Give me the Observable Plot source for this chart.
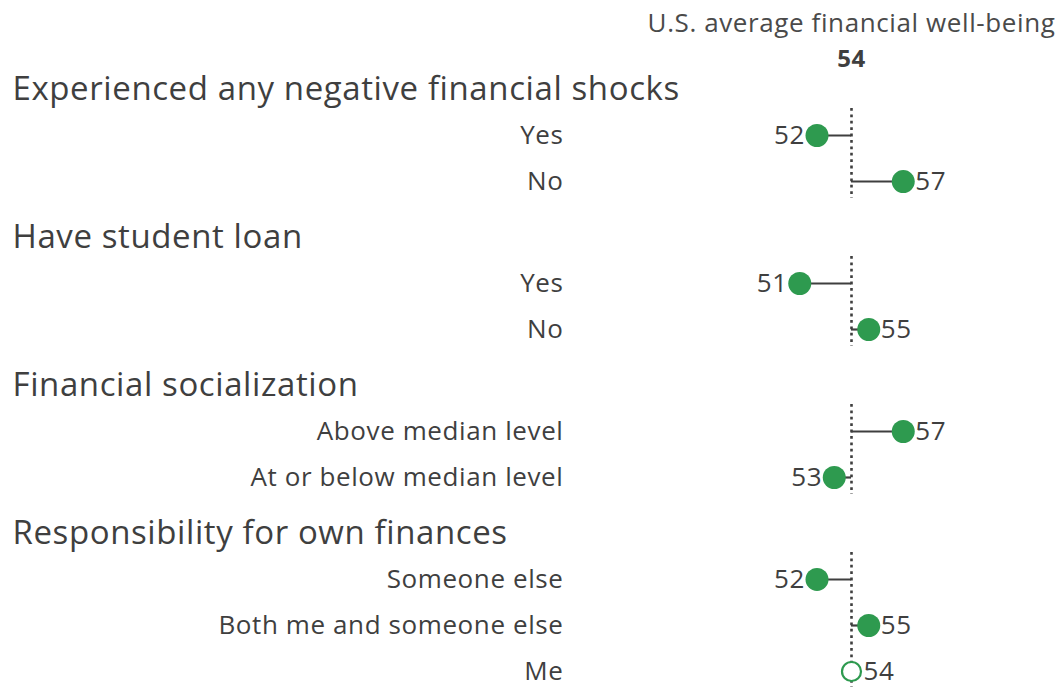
<!DOCTYPE html>
<html>
<head>
<meta charset="utf-8">
<script src="https://cdn.jsdelivr.net/npm/d3@7"></script>
<script src="https://cdn.jsdelivr.net/npm/@observablehq/plot@0.6"></script>
<style>
  html, body { margin: 0; padding: 0; background: #fff; }
  #chart svg { display: block; }
  #chart svg text { letter-spacing: 0.6px; }
</style>
</head>
<body>
<div id="chart"></div>
<script>
const average = 54;
const averageLabel = "U.S. average financial well-being";
const groups = [
  "Experienced any negative financial shocks",
  "Have student loan",
  "Financial socialization",
  "Responsibility for own finances"
];
const categories = [
  ["Yes", "No"],
  ["Yes", "No"],
  ["Above median level", "At or below median level"],
  ["Someone else", "Both me and someone else", "Me"]
];
const values = [
  [52, 57],
  [51, 55],
  [57, 53],
  [52, 55, 54]
];
const filled = [
  [true, true],
  [true, true],
  [true, true],
  [true, true, false]
];

// Layout: one slot per row, plus a small extra gap before each new group
const groupGap = 0.217;
const rows = [];
const items = [];
const groupSpans = [];
let idx = 0;
groups.forEach((g, gi) => {
  const off = gi * groupGap;
  rows.push({pos: idx++ + off, label: g, heading: true});
  const ps = [];
  categories[gi].forEach((c, ci) => {
    const it = {pos: idx++ + off, label: c, value: values[gi][ci], filled: filled[gi][ci]};
    rows.push(it);
    items.push(it);
    ps.push(it.pos);
  });
  groupSpans.push({first: ps[0], last: ps[ps.length - 1]});
});
const lastPos = rows[rows.length - 1].pos;

const green = "#2e9a4f";
const ink = "#3f3f3f";
const font = "'Open Sans', Lato, sans-serif";

const chart = Plot.plot({
  width: 1057,
  height: 687,
  margin: 0,
  style: {fontFamily: font, background: "#fff", color: ink},
  x: {domain: [50, 58], range: [782, 920], axis: null},
  y: {domain: [0, lastPos], range: [89, 671], axis: null},
  marks: [
    // average reference lines per group
    Plot.ruleX(groupSpans, {
      x: () => average, y1: "first", y2: "last",
      insetTop: -27, insetBottom: -17,
      stroke: ink, strokeWidth: 2.6, strokeDasharray: "2.8,3.6"
    }),
    // connectors
    Plot.ruleY(items, {
      y: "pos", x1: () => average, x2: "value",
      stroke: ink, strokeWidth: 2.2
    }),
    // dots
    Plot.dot(items.filter(d => d.filled), {
      x: "value", y: "pos", r: 11.5, fill: green, stroke: "none"
    }),
    Plot.dot(items.filter(d => !d.filled), {
      x: "value", y: "pos", r: 9.5, fill: "#fff", stroke: green, strokeWidth: 2.2
    }),
    // value labels
    Plot.text(items.filter(d => d.value < average), {
      x: "value", y: "pos", text: d => String(d.value),
      textAnchor: "end", dx: -12, fontSize: 26, fill: ink
    }),
    Plot.text(items.filter(d => d.value >= average), {
      x: "value", y: "pos", text: d => String(d.value),
      textAnchor: "start", dx: 12, fontSize: 26, fill: ink
    }),
    // headings
    Plot.text(rows.filter(d => d.heading), {
      y: "pos", text: "label", frameAnchor: "left", dx: 12,
      textAnchor: "start", fontSize: 33, fill: ink
    }),
    // category labels
    Plot.text(rows.filter(d => !d.heading), {
      y: "pos", text: "label", frameAnchor: "left", dx: 563,
      textAnchor: "end", fontSize: 26, fill: ink
    }),
    // top annotation
    Plot.text([average], {
      x: d => d, text: () => averageLabel, frameAnchor: "top",
      lineAnchor: "top", dy: 13, fontSize: 26, fill: "#4a4a4a"
    }),
    Plot.text([average], {
      x: d => d, text: d => String(d), frameAnchor: "top",
      lineAnchor: "top", dy: 49, fontSize: 24, fontWeight: "bold", fill: ink
    })
  ]
});
document.getElementById("chart").appendChild(chart);
</script>
</body>
</html>
